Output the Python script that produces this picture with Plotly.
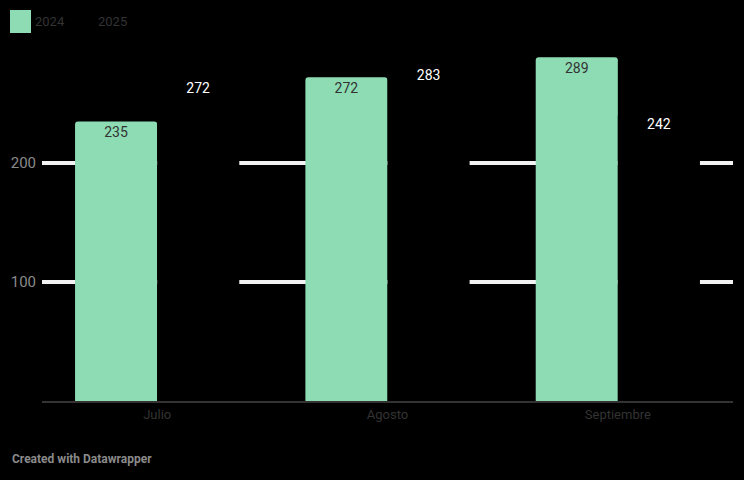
import plotly.graph_objects as go

months = ["Julio", "Agosto", "Septiembre"]
v2024 = [235, 272, 289]
v2025 = [272, 283, 242]
y_ticks = [100, 200]

GREEN = "#8ddcb3"
BG = "#000000"
DARK = "#333333"

fig = go.Figure()
fig.add_trace(go.Bar(
    x=months, y=v2024, name="2024",
    marker=dict(color=GREEN, line=dict(width=0)),
    text=[str(v) for v in v2024], textposition="inside", insidetextanchor="end",
    textfont=dict(color=DARK, size=14, family="Roboto"), textangle=0,
))
fig.add_trace(go.Bar(
    x=months, y=v2025, name="2025",
    marker=dict(color=BG, line=dict(width=0)),
    text=[str(v) for v in v2025], textposition="inside", insidetextanchor="end",
    textfont=dict(color="#ffffff", size=14, family="Roboto"), textangle=0,
))

fig.update_layout(
    width=744, height=480,
    paper_bgcolor=BG, plot_bgcolor=BG,
    margin=dict(l=42, r=11, t=45, b=79),
    barmode="group", bargap=0.287, bargroupgap=0, barcornerradius=3,
    showlegend=False,
    font=dict(family="Roboto", color=DARK, size=13),
    xaxis=dict(showgrid=False, showline=True, linecolor=DARK, linewidth=2,
               ticks="", tickfont=dict(size=13, color=DARK), fixedrange=True),
    yaxis=dict(range=[0, 299.2], tickvals=y_ticks, ticktext=[str(t) for t in y_ticks],
               showgrid=True, gridcolor="#f2f2f2", gridwidth=4, zeroline=False,
               showline=False, ticks="", ticklabelstandoff=5,
               tickfont=dict(size=15, color="#8a8a8a"), fixedrange=True),
)

# legend (custom)
fig.add_shape(type="rect", xref="paper", yref="paper",
              x0=-32/691, x1=-11/691, y0=(401-33)/356, y1=(401-10)/356,
              fillcolor=GREEN, line=dict(width=0))
fig.add_annotation(x=(33-42)/691, y=(401-22)/356, xref="paper", yref="paper", text="2024",
                   showarrow=False, xanchor="left", yanchor="middle",
                   font=dict(size=13, color=DARK))
fig.add_annotation(x=(96-42)/691, y=(401-22)/356, xref="paper", yref="paper", text="2025",
                   showarrow=False, xanchor="left", yanchor="middle",
                   font=dict(size=13, color=DARK))
fig.add_annotation(x=(10-42)/691, y=(401-459)/356, xref="paper", yref="paper",
                   text="<b>Created with Datawrapper</b>",
                   showarrow=False, xanchor="left", yanchor="middle",
                   font=dict(size=12, color="#8a8a8a"))

fig.write_html("out.html", config={"displayModeBar": False},
               post_script="document.body.style.margin='0';document.body.style.background='#000';")
